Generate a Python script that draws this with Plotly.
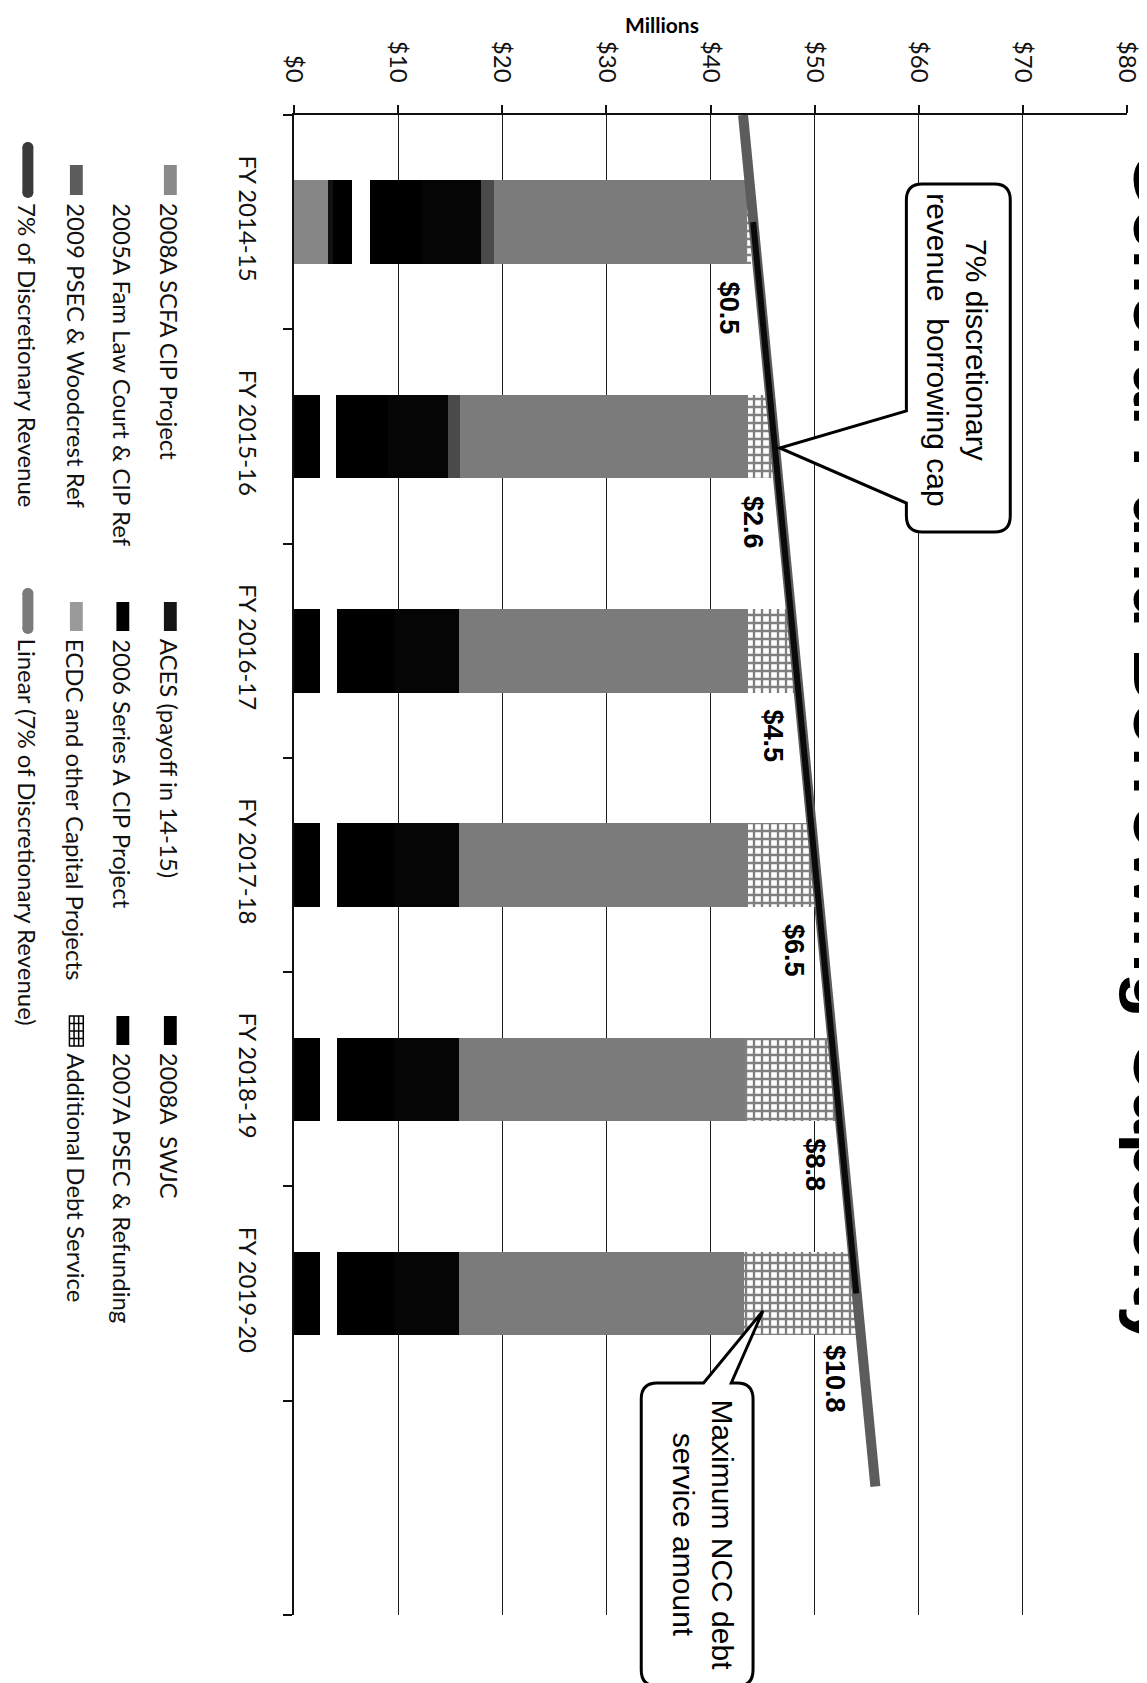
import numpy as np
import plotly.graph_objects as go

# ---------------- data ----------------
categories = ["FY 2014-15", "FY 2015-16", "FY 2016-17", "FY 2017-18", "FY 2018-19", "FY 2019-20"]
scfa_2008a = [3.3, 0, 0, 0, 0, 0]
aces = [0.4, 0, 0, 0, 0, 0]
swjc_2008a = [1.9, 2.5, 2.5, 2.5, 2.5, 2.5]
fam_law_2005a = [1.7, 1.5, 1.6, 1.6, 1.6, 1.6]
series_a_2006 = [5.0, 5.0, 5.5, 5.5, 5.5, 5.5]
psec_2007a = [5.7, 5.8, 6.2, 6.2, 6.2, 6.2]
psec_2009 = [1.2, 1.1, 0, 0, 0, 0]
ecdc = [24.2, 27.7, 27.8, 27.8, 27.5, 27.4]
additional = [0.5, 2.6, 4.5, 6.5, 8.8, 10.8]
seven_pct = [44.1, 46.1, 48.1, 50.1, 52.1, 54.0]
value_ticks = [0, 10, 20, 30, 40, 50, 60, 70, 80]

idx = list(range(len(categories)))

# ---------------- pixel -> paper helpers (layout only) ----------------
W, H = 1147, 1683
PL, PR, PT, PB = 286, 1128, 107, 1607


def px(x):
    return (x - PL) / (PR - PL)


def py(y):
    return (PB - y) / (PB - PT)


def P(x, y):
    return f"{px(x):.5f},{py(y):.5f}"


fig = go.Figure()

series = [
    ("2008A SCFA CIP Project", scfa_2008a, "#868686"),
    ("ACES (payoff in 14-15)", aces, "#111111"),
    ("2008A  SWJC", swjc_2008a, "#000000"),
    ("2005A Fam Law Court & CIP Ref", fam_law_2005a, "#ffffff"),
    ("2006 Series A CIP Project", series_a_2006, "#000000"),
    ("2007A PSEC & Refunding", psec_2007a, "#050505"),
    ("2009 PSEC & Woodcrest Ref", psec_2009, "#4a4a4a"),
    ("ECDC and other Capital Projects", ecdc, "#7b7b7b"),
]
for name, vals, col in series:
    fig.add_trace(go.Bar(
        y=idx, x=vals, orientation="h", name=name, width=0.39,
        marker=dict(color=col, line=dict(width=0)),
    ))

fig.add_trace(go.Bar(
    y=idx, x=additional, orientation="h", name="Additional Debt Service", width=0.39,
    marker=dict(color="white", line=dict(width=0),
                pattern=dict(shape="+", fgcolor="black", bgcolor="white", size=8, solidity=0.5)),
))

# linear trendline of the 7% series
coef = np.polyfit(idx, seven_pct, 1)
trend_y = [-0.5, 5.9]
trend_x = [float(np.polyval(coef, t)) for t in trend_y]
fig.add_trace(go.Scatter(
    x=trend_x, y=trend_y, mode="lines", name="Linear (7% of Discretionary Revenue)",
    line=dict(color="#5c5c5c", width=10),
))
fig.add_trace(go.Scatter(
    x=seven_pct, y=idx, mode="lines", name="7% of Discretionary Revenue",
    line=dict(color="#0a0a0a", width=6),
))

totals = [sum(v) for v in zip(scfa_2008a, aces, swjc_2008a, fam_law_2005a, series_a_2006,
                              psec_2007a, psec_2009, ecdc, additional)]

annotations = []
shapes = []

# data labels for additional debt
for i, (t, a) in enumerate(zip(totals, additional)):
    annotations.append(dict(
        x=t - 2.1, y=i + 0.40, xref="x", yref="y", text=f"<b>${a}</b>", showarrow=False,
        textangle=90, xanchor="center", yanchor="middle",
        font=dict(family="Liberation Sans, Arial", size=27, color="black"),
    ))

# axis title "Millions"
annotations.append(dict(
    x=px(658), y=py(16), xref="paper", yref="paper", text="<b>Millions</b>", showarrow=False,
    xanchor="center", yanchor="middle", font=dict(family="Lato", size=21, color="black"),
))

# partially visible title at the right edge (cut by the page edge, as in the scan)
annotations.append(dict(
    x=px(1117), y=py(741), xref="paper", yref="paper", text="<b>General Fund Borrowing Capacity</b>",
    showarrow=False, textangle=90, xanchor="left", yanchor="middle",
    font=dict(family="Liberation Sans, Arial", size=74, color="black"),
))

# callout 1: 7% discretionary revenue borrowing cap
L, R, T, B, r = 905, 1010, 176, 524, 16
path1 = (f"M {P(L+r, T)} L {P(R-r, T)} Q {P(R, T)} {P(R, T+r)} L {P(R, B-r)} "
         f"Q {P(R, B)} {P(R-r, B)} L {P(L+r, B)} Q {P(L, B)} {P(L, B-r)} "
         f"L {P(L, 495)} L {P(777, 440)} L {P(L, 403)} L {P(L, T+r)} Q {P(L, T)} {P(L+r, T)} Z")
shapes.append(dict(type="path", xref="paper", yref="paper", path=path1,
                   fillcolor="white", line=dict(color="black", width=3), layer="above"))
annotations.append(dict(
    x=px(956), y=py(342), xref="paper", yref="paper",
    text="7% discretionary<br>revenue\u00a0 borrowing cap", showarrow=False, textangle=90,
    xanchor="center", yanchor="middle", align="center",
    font=dict(family="Liberation Sans, Arial", size=30, color="black"),
))

# callout 2: Maximum NCC debt service amount
L, R, T, B = 637, 750, 1375, 1678
path2 = (f"M {P(L+r, T)} L {P(700, T)} L {P(760, 1303)} L {P(728, T)} L {P(R-r, T)} "
         f"Q {P(R, T)} {P(R, T+r)} L {P(R, B-r)} Q {P(R, B)} {P(R-r, B)} "
         f"L {P(L+r, B)} Q {P(L, B)} {P(L, B-r)} L {P(L, T+r)} Q {P(L, T)} {P(L+r, T)} Z")
shapes.append(dict(type="path", xref="paper", yref="paper", path=path2,
                   fillcolor="white", line=dict(color="black", width=3), layer="above"))
annotations.append(dict(
    x=px(699), y=py(1527), xref="paper", yref="paper",
    text="Maximum NCC debt<br>service amount", showarrow=False, textangle=90,
    xanchor="center", yanchor="middle", align="center",
    font=dict(family="Liberation Sans, Arial", size=30, color="black"),
))

# ---------------- custom rotated legend ----------------
legend_items = [
    # (label, kind, color, column x center, swatch top, text start)
    ("2008A SCFA CIP Project", "box", "#8a8a8a", 161, 157, 193),
    ("ACES (payoff in 14-15)", "box", "#151515", 161, 594, 629),
    ("2008A  SWJC", "box", "#000000", 161, 1008, 1043),
    ("2005A Fam Law Court & CIP Ref", "box", "#ffffff", 113, 157, 193),
    ("2006 Series A CIP Project", "box", "#000000", 113, 594, 629),
    ("2007A PSEC & Refunding", "box", "#000000", 113, 1008, 1043),
    ("2009 PSEC & Woodcrest Ref", "box", "#5c5c5c", 66, 157, 193),
    ("ECDC and other Capital Projects", "box", "#9a9a9a", 66, 594, 629),
    ("Additional Debt Service", "hatch", "#000000", 66, 1008, 1043),
    ("7% of Discretionary Revenue", "line", "#3a3a3a", 17, 134, 193),
    ("Linear (7% of Discretionary Revenue)", "line", "#7a7a7a", 17, 580, 629),
]
for label, kind, col, xc, sw_top, t0 in legend_items:
    if kind == "box":
        shapes.append(dict(type="rect", xref="paper", yref="paper",
                           x0=px(xc - 6.5), x1=px(xc + 6.5), y0=py(sw_top), y1=py(t0 - 6),
                           fillcolor=col, line=dict(width=0), layer="above"))
    elif kind == "hatch":
        x0, x1, y0, y1 = xc - 7, xc + 7, sw_top, t0 - 5
        shapes.append(dict(type="rect", xref="paper", yref="paper",
                           x0=px(x0), x1=px(x1), y0=py(y0), y1=py(y1),
                           fillcolor="white", line=dict(color="black", width=1.5), layer="above"))
        for k in range(1, 3):
            xx = x0 + (x1 - x0) * k / 3
            shapes.append(dict(type="line", xref="paper", yref="paper", x0=px(xx), x1=px(xx),
                               y0=py(y0), y1=py(y1), line=dict(color="black", width=1.5)))
        for k in range(1, 4):
            yy = y0 + (y1 - y0) * k / 4
            shapes.append(dict(type="line", xref="paper", yref="paper", x0=px(x0), x1=px(x1),
                               y0=py(yy), y1=py(yy), line=dict(color="black", width=1.5)))
    else:
        shapes.append(dict(type="line", xref="paper", yref="paper", x0=px(xc), x1=px(xc),
                           y0=py(sw_top + 5), y1=py(t0 - 8), line=dict(color=col, width=11)))
        shapes.append(dict(type="circle", xref="paper", yref="paper",
                           x0=px(xc - 5.5), x1=px(xc + 5.5), y0=py(sw_top), y1=py(sw_top + 10),
                           fillcolor=col, line=dict(width=0)))
        shapes.append(dict(type="circle", xref="paper", yref="paper",
                           x0=px(xc - 5.5), x1=px(xc + 5.5), y0=py(t0 - 13), y1=py(t0 - 3),
                           fillcolor=col, line=dict(width=0)))
    annotations.append(dict(
        x=px(xc), y=py(t0), xref="paper", yref="paper", text=label, showarrow=False,
        textangle=90, xanchor="center", yanchor="top",
        font=dict(family="Lato", size=24, color="#111111"),
    ))

fig.update_layout(
    width=W, height=H,
    margin=dict(l=PL, r=W - PR, t=PT, b=H - PB, pad=0),
    paper_bgcolor="white", plot_bgcolor="white",
    barmode="stack", bargap=0.6, showlegend=False,
    font=dict(family="Lato", size=24, color="#111111"),
    xaxis=dict(
        range=[0, 80], side="top", tickmode="array", tickvals=value_ticks,
        ticktext=[f"${v}" for v in value_ticks], tickangle=90,
        ticks="outside", ticklen=8, tickwidth=1.5, tickcolor="#111111",
        showgrid=True, gridcolor="#1a1a1a", gridwidth=1.3,
        showline=True, linecolor="#111111", linewidth=2, zeroline=False,
        ticklabelstandoff=14, tickfont=dict(family="Lato", size=24, color="#111111"),
    ),
    yaxis=dict(
        range=[6.5, -0.5], tickmode="array", tickvals=idx, ticktext=categories, tickangle=90,
        ticks="", showgrid=False, zeroline=False,
        showline=True, linecolor="#111111", linewidth=2,
        minor=dict(tick0=0.5, dtick=1, ticks="outside", ticklen=9, tickwidth=1.5,
                   tickcolor="#111111", showgrid=False),
        ticklabelstandoff=24, tickfont=dict(family="Lato", size=24, color="#111111"),
    ),
    annotations=annotations,
    shapes=shapes,
)

fig.write_html("out.html")
